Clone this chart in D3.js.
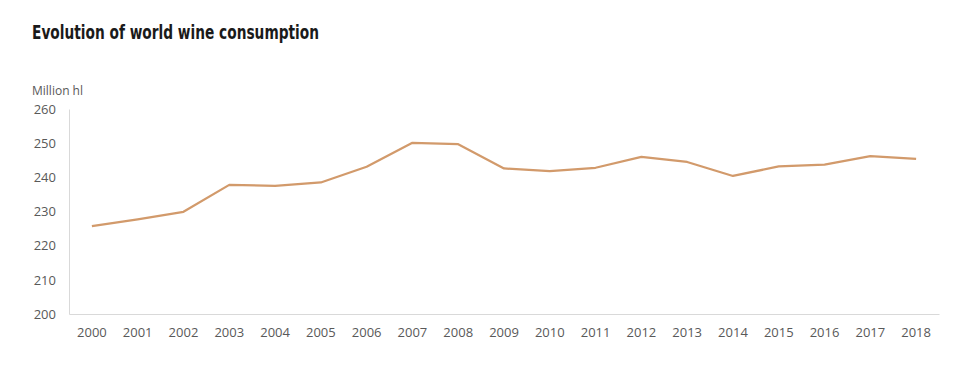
<!DOCTYPE html>
<html>
<head>
<meta charset="utf-8">
<script src="https://cdn.jsdelivr.net/npm/d3@7"></script>
<style>
  body { margin: 0; background: #fff; }
</style>
</head>
<body>
<div id="chart"></div>
<script>
var width = 955,
    height = 370;

var years = ["2000","2001","2002","2003","2004","2005","2006","2007","2008","2009",
             "2010","2011","2012","2013","2014","2015","2016","2017","2018"];
var consumption = [225.7, 227.7, 229.9, 237.8, 237.5, 238.5, 243.1, 250.1, 249.7, 242.6,
                   241.8, 242.8, 246.0, 244.5, 240.4, 243.2, 243.7, 246.2, 245.4];
var yTicks = [200, 210, 220, 230, 240, 250, 260];

var plotLeft = 69, plotRight = 939, plotTop = 109, plotBottom = 314;

var svg = d3.select("#chart")
  .append("svg")
  .attr("width", width)
  .attr("height", height);

var x = d3.scaleBand().domain(years).range([plotLeft, plotRight]).padding(0);
var y = d3.scaleLinear().domain([200, 260]).range([plotBottom, plotTop]);

svg.append("text")
  .attr("x", 32)
  .attr("y", 39)
  .attr("font-family", "'Liberation Sans Narrow', 'DejaVu Sans Condensed', sans-serif")
  .attr("font-weight", "bold")
  .attr("font-size", 20)
  .attr("textLength", 287)
  .attr("lengthAdjust", "spacingAndGlyphs")
  .attr("fill", "#1a1a1a")
  .text("Evolution of world wine consumption");

svg.append("text")
  .attr("x", 32)
  .attr("y", 95)
  .attr("font-family", "'Open Sans', sans-serif")
  .attr("font-size", 12)
  .attr("fill", "#595959")
  .text("Million hl");

var yAxis = svg.append("g")
  .attr("transform", "translate(" + plotLeft + ",0)")
  .call(d3.axisLeft(y).tickValues(yTicks).tickSize(0).tickPadding(13));
yAxis.select(".domain").attr("stroke", "#d9d9d9");
yAxis.selectAll("text")
  .attr("font-family", "'Open Sans', sans-serif")
  .attr("font-size", 13)
  .attr("fill", "#595959");

var xAxis = svg.append("g")
  .attr("transform", "translate(0," + plotBottom + ")")
  .call(d3.axisBottom(x).tickSize(0).tickPadding(14));
xAxis.select(".domain").attr("stroke", "#d9d9d9");
xAxis.selectAll("text")
  .attr("font-family", "'Open Sans', sans-serif")
  .attr("font-size", 13)
  .attr("fill", "#595959");

var line = d3.line()
  .x(function(d, i){ return x(years[i]) + x.bandwidth() / 2 })
  .y(function(d){ return y(d) });

svg.append("path")
  .datum(consumption)
  .attr("d", line)
  .attr("fill", "none")
  .attr("stroke", "#d29a6b")
  .attr("stroke-width", 2.25)
  .attr("stroke-linejoin", "round");
</script>
</body>
</html>
